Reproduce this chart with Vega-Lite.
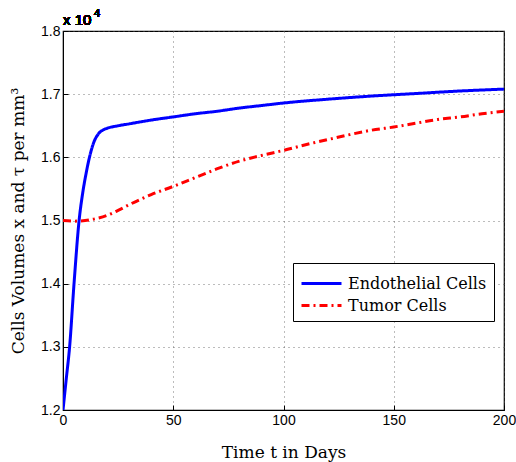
{
  "$schema": "https://vega.github.io/schema/vega-lite/v6.json",
  "width": 441,
  "height": 379,
  "autosize": "none",
  "padding": {"left": 63, "top": 31, "right": 12, "bottom": 52},
  "background": "white",
  "config": {
    "view": {"stroke": "black", "strokeWidth": 1.2},
    "axis": {
      "labelFont": "Liberation Sans",
      "labelFontSize": 14,
      "labelColor": "black",
      "titleFont": "DejaVu Serif",
      "titleFontSize": 17,
      "titleFontWeight": "normal",
      "titleColor": "black",
      "domainColor": "black",
      "tickColor": "black",
      "tickSize": -5,
      "grid": true,
      "gridColor": "#555555",
      "gridDash": [1, 4],
      "gridWidth": 0.8
    }
  },
  "data": {
    "values": [
      {"t": 0, "v": 1.2, "s": "Endothelial Cells"},
      {"t": 1.5, "v": 1.25, "s": "Endothelial Cells"},
      {"t": 3, "v": 1.30, "s": "Endothelial Cells"},
      {"t": 5, "v": 1.40, "s": "Endothelial Cells"},
      {"t": 7.3, "v": 1.50, "s": "Endothelial Cells"},
      {"t": 9, "v": 1.545, "s": "Endothelial Cells"},
      {"t": 10.5, "v": 1.575, "s": "Endothelial Cells"},
      {"t": 12, "v": 1.60, "s": "Endothelial Cells"},
      {"t": 14, "v": 1.624, "s": "Endothelial Cells"},
      {"t": 16, "v": 1.637, "s": "Endothelial Cells"},
      {"t": 18, "v": 1.643, "s": "Endothelial Cells"},
      {"t": 20, "v": 1.646, "s": "Endothelial Cells"},
      {"t": 25, "v": 1.650, "s": "Endothelial Cells"},
      {"t": 30, "v": 1.653, "s": "Endothelial Cells"},
      {"t": 40, "v": 1.659, "s": "Endothelial Cells"},
      {"t": 50, "v": 1.664, "s": "Endothelial Cells"},
      {"t": 60, "v": 1.669, "s": "Endothelial Cells"},
      {"t": 70, "v": 1.673, "s": "Endothelial Cells"},
      {"t": 80, "v": 1.678, "s": "Endothelial Cells"},
      {"t": 90, "v": 1.682, "s": "Endothelial Cells"},
      {"t": 100, "v": 1.686, "s": "Endothelial Cells"},
      {"t": 120, "v": 1.692, "s": "Endothelial Cells"},
      {"t": 140, "v": 1.697, "s": "Endothelial Cells"},
      {"t": 160, "v": 1.701, "s": "Endothelial Cells"},
      {"t": 180, "v": 1.705, "s": "Endothelial Cells"},
      {"t": 200, "v": 1.708, "s": "Endothelial Cells"},
      {"t": 0, "v": 1.500, "s": "Tumor Cells"},
      {"t": 5, "v": 1.499, "s": "Tumor Cells"},
      {"t": 10, "v": 1.500, "s": "Tumor Cells"},
      {"t": 15, "v": 1.503, "s": "Tumor Cells"},
      {"t": 20, "v": 1.508, "s": "Tumor Cells"},
      {"t": 25, "v": 1.516, "s": "Tumor Cells"},
      {"t": 30, "v": 1.525, "s": "Tumor Cells"},
      {"t": 40, "v": 1.541, "s": "Tumor Cells"},
      {"t": 50, "v": 1.554, "s": "Tumor Cells"},
      {"t": 60, "v": 1.568, "s": "Tumor Cells"},
      {"t": 70, "v": 1.582, "s": "Tumor Cells"},
      {"t": 80, "v": 1.594, "s": "Tumor Cells"},
      {"t": 90, "v": 1.603, "s": "Tumor Cells"},
      {"t": 100, "v": 1.611, "s": "Tumor Cells"},
      {"t": 110, "v": 1.620, "s": "Tumor Cells"},
      {"t": 120, "v": 1.628, "s": "Tumor Cells"},
      {"t": 130, "v": 1.636, "s": "Tumor Cells"},
      {"t": 140, "v": 1.643, "s": "Tumor Cells"},
      {"t": 150, "v": 1.648, "s": "Tumor Cells"},
      {"t": 160, "v": 1.654, "s": "Tumor Cells"},
      {"t": 170, "v": 1.660, "s": "Tumor Cells"},
      {"t": 180, "v": 1.664, "s": "Tumor Cells"},
      {"t": 190, "v": 1.669, "s": "Tumor Cells"},
      {"t": 200, "v": 1.673, "s": "Tumor Cells"}
    ]
  },
  "layer": [
    {
      "mark": {"type": "line", "clip": true, "strokeWidth": 3, "interpolate": "monotone"},
      "encoding": {
        "x": {
          "field": "t", "type": "quantitative",
          "scale": {"domain": [0, 200], "nice": false},
          "axis": {"values": [0, 50, 100, 150, 200], "title": "Time t in Days", "titlePadding": 17, "labelPadding": 8, "labelFlush": false}
        },
        "y": {
          "field": "v", "type": "quantitative",
          "scale": {"domain": [1.2, 1.8], "nice": false, "zero": false},
          "axis": {"values": [1.2, 1.3, 1.4, 1.5, 1.6, 1.7, 1.8], "format": ".1f", "title": "Cells Volumes x and τ per mm³", "titlePadding": 13, "labelPadding": 8}
        },
        "color": {
          "field": "s", "type": "nominal",
          "scale": {"domain": ["Endothelial Cells", "Tumor Cells"], "range": ["#0000ff", "#ff0000"]},
          "legend": {
            "title": null,
            "orient": "none",
            "legendX": 230,
            "legendY": 232,
            "direction": "vertical",
            "symbolType": "M-1,0H2.333",
            "symbolSize": 576,
            "symbolStrokeWidth": 3,
            "labelFont": "DejaVu Serif",
            "labelFontSize": 16,
            "labelColor": "black",
            "labelOffset": 21,
            "fillColor": "white",
            "strokeColor": "black",
            "padding": 7,
            "rowPadding": 0,
            "labelLimit": 300
          }
        },
        "strokeDash": {
          "field": "s", "type": "nominal",
          "scale": {"domain": ["Endothelial Cells", "Tumor Cells"], "range": [[1, 0], [8, 4, 2, 4]]},
          "legend": null
        }
      }
    },
    {
      "mark": {"type": "text", "align": "left", "baseline": "alphabetic", "dx": 0, "dy": -6, "font": "Liberation Sans", "fontSize": 15, "fontWeight": "normal", "fill": "black", "strokeWidth": 0},
      "encoding": {
        "x": {"datum": 0, "type": "quantitative"},
        "y": {"datum": 1.8, "type": "quantitative"},
        "text": {"value": "x 10"}
      }
    },
    {
      "mark": {"type": "text", "align": "left", "baseline": "alphabetic", "dx": 31, "dy": -14, "font": "Liberation Sans", "fontSize": 11, "fontWeight": "normal", "fill": "black", "strokeWidth": 0},
      "encoding": {
        "x": {"datum": 0, "type": "quantitative"},
        "y": {"datum": 1.8, "type": "quantitative"},
        "text": {"value": "4"}
      }
    }
  ]
}
